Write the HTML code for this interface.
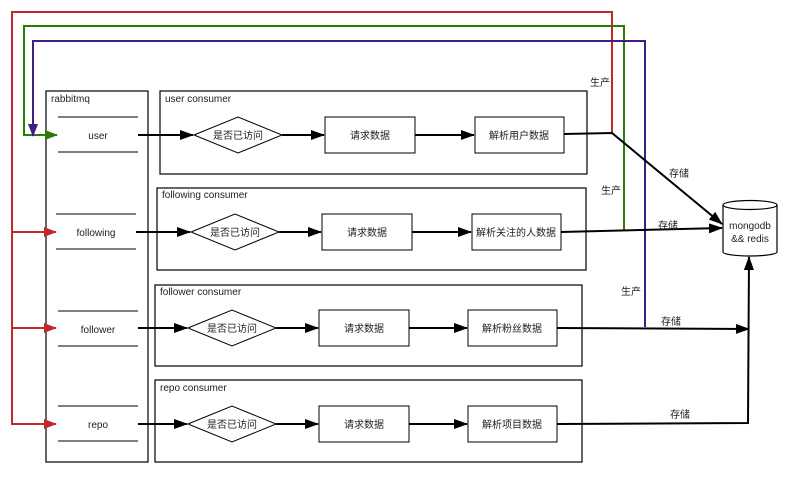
<!DOCTYPE html>
<html><head><meta charset="utf-8"><style>
html,body{margin:0;padding:0;background:#fff;}
svg text{font-family:"Liberation Sans","Noto Sans CJK SC",sans-serif;font-size:10px;fill:#222;}
</style></head><body>
<svg width="789" height="474" viewBox="0 0 789 474" xmlns="http://www.w3.org/2000/svg">
<defs>
<marker id="ak" markerWidth="14" markerHeight="10" refX="13" refY="5" orient="auto" markerUnits="userSpaceOnUse"><path d="M0,0 L14,5 L0,10 z" fill="#000"/></marker>
<marker id="ar" markerWidth="13" markerHeight="10" refX="12" refY="5" orient="auto" markerUnits="userSpaceOnUse"><path d="M0,0 L13,5 L0,10 z" fill="#c1272d"/></marker>
<marker id="ag" markerWidth="13" markerHeight="10" refX="12" refY="5" orient="auto" markerUnits="userSpaceOnUse"><path d="M0,0 L13,5 L0,10 z" fill="#2d7a0a"/></marker>
<marker id="ap" markerWidth="13" markerHeight="10" refX="12" refY="5" orient="auto" markerUnits="userSpaceOnUse"><path d="M0,0 L13,5 L0,10 z" fill="#3f1f82"/></marker>
</defs>
<g fill="#fff" stroke="#000" stroke-width="1.2">
<rect x="46" y="91" width="102" height="371"/>
<rect x="160" y="91" width="427" height="83"/>
<rect x="157" y="188" width="429" height="82"/>
<rect x="155" y="285" width="427" height="81"/>
<rect x="155" y="380" width="427" height="82"/>
</g>
<g stroke="#000" stroke-width="1">
<line x1="58" y1="117" x2="138" y2="117"/><line x1="58" y1="152" x2="138" y2="152"/>
<line x1="56" y1="214" x2="136" y2="214"/><line x1="56" y1="249" x2="136" y2="249"/>
<line x1="58" y1="311" x2="138" y2="311"/><line x1="58" y1="346" x2="138" y2="346"/>
<line x1="58" y1="406" x2="138" y2="406"/><line x1="58" y1="441" x2="138" y2="441"/>
</g>
<text x="51" y="102">rabbitmq</text>
<text x="165" y="102">user consumer</text>
<text x="162" y="198">following consumer</text>
<text x="160" y="295">follower consumer</text>
<text x="160" y="391">repo consumer</text>
<text x="98" y="139" text-anchor="middle">user</text>
<text x="96" y="236" text-anchor="middle">following</text>
<text x="98" y="333" text-anchor="middle">follower</text>
<text x="98" y="428" text-anchor="middle">repo</text>
<g fill="#fff" stroke="#000" stroke-width="1">
<polygon points="194,135 238,117 282,135 238,153"/>
<polygon points="191,232 235,214 279,232 235,250"/>
<polygon points="188,328 232,310 276,328 232,346"/>
<polygon points="188,424 232,406 276,424 232,442"/>
<rect x="325" y="117" width="90" height="36"/>
<rect x="322" y="214" width="90" height="36"/>
<rect x="319" y="310" width="90" height="36"/>
<rect x="319" y="406" width="90" height="36"/>
<rect x="475" y="117" width="89" height="36"/>
<rect x="472" y="214" width="89" height="36"/>
<rect x="468" y="310" width="89" height="36"/>
<rect x="468" y="406" width="89" height="36"/>
</g>
<g text-anchor="middle">
<text x="238" y="139">是否已访问</text><text x="235" y="236">是否已访问</text><text x="232" y="332">是否已访问</text><text x="232" y="428">是否已访问</text>
<text x="370" y="139">请求数据</text><text x="367" y="236">请求数据</text><text x="364" y="332">请求数据</text><text x="364" y="428">请求数据</text>
<text x="519" y="139">解析用户数据</text><text x="516" y="236">解析关注的人数据</text><text x="512" y="332">解析粉丝数据</text><text x="512" y="428">解析项目数据</text>
</g>
<g stroke="#000" stroke-width="2" fill="none">
<line x1="138" y1="135" x2="193" y2="135" marker-end="url(#ak)"/>
<line x1="136" y1="232" x2="190" y2="232" marker-end="url(#ak)"/>
<line x1="138" y1="328" x2="187" y2="328" marker-end="url(#ak)"/>
<line x1="138" y1="424" x2="187" y2="424" marker-end="url(#ak)"/>
<line x1="282" y1="135" x2="324" y2="135" marker-end="url(#ak)"/>
<line x1="279" y1="232" x2="321" y2="232" marker-end="url(#ak)"/>
<line x1="276" y1="328" x2="318" y2="328" marker-end="url(#ak)"/>
<line x1="276" y1="424" x2="318" y2="424" marker-end="url(#ak)"/>
<line x1="415" y1="135" x2="474" y2="135" marker-end="url(#ak)"/>
<line x1="412" y1="232" x2="471" y2="232" marker-end="url(#ak)"/>
<line x1="409" y1="328" x2="467" y2="328" marker-end="url(#ak)"/>
<line x1="409" y1="424" x2="467" y2="424" marker-end="url(#ak)"/>
</g>
<g fill="none" stroke-width="2">
<path d="M612,133 V12 H12 V424 H56" stroke="#c1272d" marker-end="url(#ar)"/>
<path d="M12,232 H56" stroke="#c1272d" marker-end="url(#ar)"/>
<path d="M12,328 H56" stroke="#c1272d" marker-end="url(#ar)"/>
<path d="M624,231 V26 H24 V135 H57" stroke="#2d7a0a" marker-end="url(#ag)"/>
<path d="M645,327 V41 H33 V136" stroke="#3f1f82" marker-end="url(#ap)"/>
</g>
<g stroke="#000" stroke-width="2" fill="none">
<path d="M564,134 L612,133 L722,224" marker-end="url(#ak)"/>
<path d="M561,232 L722,228" marker-end="url(#ak)"/>
<path d="M557,328 L749,329" marker-end="url(#ak)"/>
<path d="M557,424 L748,423 L749,257" marker-end="url(#ak)"/>
</g>
<g stroke="#000" stroke-width="1.2" fill="#fff">
<path d="M723,205 V252 A27,4 0 0 0 777,252 V205"/>
<ellipse cx="750" cy="205" rx="27" ry="4.5"/>
</g>
<text x="750" y="229" text-anchor="middle" font-size="10">mongodb</text>
<text x="750" y="242" text-anchor="middle" font-size="10">&amp;&amp; redis</text>
<text x="590" y="86">生产</text>
<text x="601" y="194">生产</text>
<text x="621" y="295">生产</text>
<text x="669" y="177">存储</text>
<text x="658" y="229">存储</text>
<text x="661" y="325">存储</text>
<text x="670" y="418">存储</text>
</svg>
</body></html>
